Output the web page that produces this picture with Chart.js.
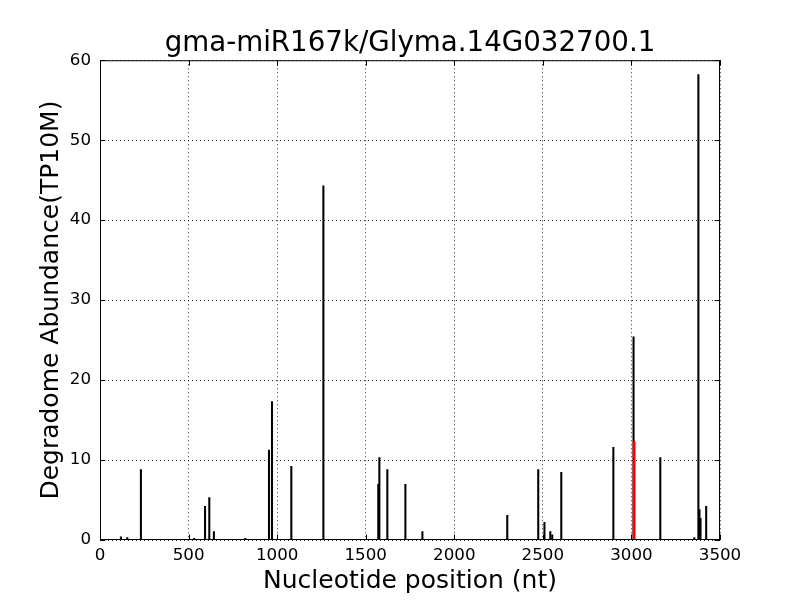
<!DOCTYPE html>
<html lang="en">
<head>
    <meta charset="UTF-8">
    <title>gma-miR167k/Glyma.14G032700.1</title>
    <script src="https://cdn.jsdelivr.net/npm/chart.js"></script>
    <style>
        body { margin: 0; background: #fff; }
    </style>
</head>
<body>
    <canvas id="grafico" width="800" height="600"></canvas>

    <script>
        // degradome reads along the transcript
        const posicoes = [118, 154, 231, 532, 593, 617, 643, 820, 954, 971, 1080, 1261,
                          1571, 1577, 1622, 1724, 1820, 2299, 2474, 2509, 2542, 2553, 2604,
                          2898, 3012, 3163, 3355, 3378, 3384, 3390, 3422]
        const abundancia = [0.4, 0.3, 8.8, 0.2, 4.2, 5.3, 1.05, 0.2, 11.25, 17.3, 9.2, 44.3,
                            6.95, 10.3, 8.8, 6.95, 1.05, 3.1, 8.8, 2.2, 1.05, 0.65, 8.45,
                            11.6, 25.4, 10.3, 0.3, 58.2, 3.8, 2.7, 4.2]
        // the miRNA cleavage site (red)
        const posAlvo = [3015]
        const abundAlvo = [12.3]

        const ticksX = [0, 500, 1000, 1500, 2000, 2500, 3000, 3500]
        const ticksY = [0, 10, 20, 30, 40, 50, 60]

        const fonte = "'DejaVu Sans', sans-serif"

        const moldura = {
            id: 'moldura',
            afterDatasetsDraw(chart) {
                const {ctx, chartArea: a, scales} = chart
                ctx.save()
                ctx.strokeStyle = '#000'
                ctx.lineWidth = 1
                ctx.strokeRect(a.left + 0.5, a.top + 0.5, a.right - a.left - 1, a.bottom - a.top - 1)
                ctx.beginPath()
                const t = 5.5
                scales.x.ticks.forEach(tk => {
                    const p = Math.round(scales.x.getPixelForValue(tk.value)) + 0.5
                    ctx.moveTo(p, a.bottom); ctx.lineTo(p, a.bottom - t)
                    ctx.moveTo(p, a.top); ctx.lineTo(p, a.top + t)
                })
                scales.y.ticks.forEach(tk => {
                    const p = Math.round(scales.y.getPixelForValue(tk.value)) + 0.5
                    ctx.moveTo(a.left, p); ctx.lineTo(a.left + t, p)
                    ctx.moveTo(a.right, p); ctx.lineTo(a.right - t, p)
                })
                ctx.stroke()
                ctx.restore()
            }
        }

        const ctx = document.getElementById('grafico')

        const grafico = new Chart(ctx, {
            type: 'bar',
            data: {
                datasets: [{
                    label: 'alvo',
                    data: posAlvo.map((x, i) => ({x: x, y: abundAlvo[i]})),
                    backgroundColor: '#ff0000',
                    barThickness: 2.2,
                    grouped: false,
                    order: 0
                }, {
                    label: 'leituras',
                    data: posicoes.map((x, i) => ({x: x, y: abundancia[i]})),
                    backgroundColor: '#000000',
                    barThickness: 1.4,
                    grouped: false,
                    order: 1
                }]
            },
            options: {
                responsive: false,
                animation: false,
                layout: { padding: { right: 80 } },
                plugins: {
                    legend: { display: false },
                    tooltip: { enabled: false },
                    title: {
                        display: true,
                        fullSize: false,
                        text: 'gma-miR167k/Glyma.14G032700.1',
                        color: '#000',
                        font: { family: fonte, size: 27.7, weight: 'normal' },
                        padding: { top: 27, bottom: 0 }
                    }
                },
                scales: {
                    x: {
                        type: 'linear',
                        offset: false,
                        min: 0,
                        max: 3500,
                        afterBuildTicks: s => { s.ticks = ticksX.map(v => ({value: v})) },
                        afterFit: s => { s.height = 60 },
                        grid: { color: '#000', lineWidth: 0.8, offset: false, drawTicks: false },
                        border: { display: false, dash: [1, 3] },
                        ticks: {
                            color: '#000', padding: 6,
                            font: { family: fonte, size: 16.7 },
                            callback: v => String(v)
                        },
                        title: {
                            display: true,
                            text: 'Nucleotide position (nt)',
                            color: '#000',
                            font: { family: fonte, size: 25 },
                            padding: { top: 0, bottom: 4 }
                        }
                    },
                    y: {
                        min: 0,
                        max: 60,
                        afterBuildTicks: s => { s.ticks = ticksY.map(v => ({value: v})) },
                        afterFit: s => { s.width = 100 },
                        grid: { color: '#000', lineWidth: 0.8, drawTicks: false },
                        border: { display: false, dash: [1, 3] },
                        ticks: {
                            color: '#000', padding: 9,
                            font: { family: fonte, size: 16.7 },
                            callback: v => String(v)
                        },
                        title: {
                            display: true,
                            text: 'Degradome Abundance(TP10M)',
                            color: '#000',
                            font: { family: fonte, size: 25 },
                            padding: { top: 36, bottom: 0 }
                        }
                    }
                }
            },
            plugins: [moldura]
        })
    </script>
</body>
</html>
